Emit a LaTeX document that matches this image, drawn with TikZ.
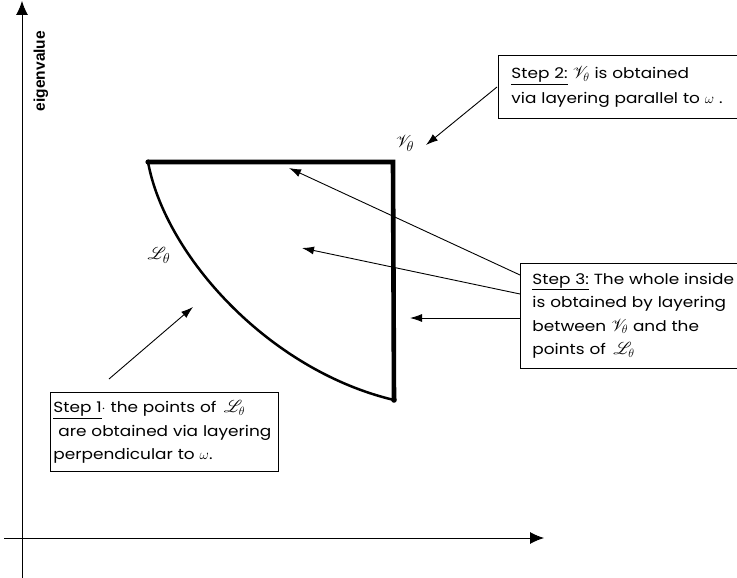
\documentclass[tikz,border=0pt]{standalone}
\usepackage{fontspec}
\usepackage{mathrsfs}
\setmainfont{Poppins}[FakeStretch=1.15]
\setsansfont{Liberation Sans}
\usetikzlibrary{arrows.meta}
\newcommand\myScrV{{\fontsize{17}{20}\selectfont$\mathscr{V}_{\theta}$}}
\newcommand\myScrL{{\fontsize{17}{20}\selectfont$\mathscr{L}_{\theta}$}}
\begin{document}
\begin{tikzpicture}[x=1pt,y=-1pt,
  box/.style={draw,line width=0.9pt,align=left,anchor=north west,inner ysep=9pt,font=\fontsize{14.7}{23.5}\selectfont},
  thin/.style={line width=0.9pt,-{Latex[length=12pt,width=8pt]}},
  axis/.style={line width=0.9pt,-{Latex[length=14pt,width=12pt]}},
  edge/.style={line width=4.6pt},
  lbl/.style={font=\fontsize{19}{21}\selectfont}]
\useasboundingbox (0,0) rectangle (737,578);
% axes
\coordinate (yb) at (22,578);
\coordinate (yt) at (22,1);
\coordinate (xl) at (4,538);
\coordinate (xr) at (544,538);
\draw[axis] (yb) -- (yt);
\draw[axis] (xl) -- (xr);
\node[rotate=90,font=\sffamily\bfseries\fontsize{15.5}{17}\selectfont] (ev) at (41,71) {eigenvalue};
% shape
\coordinate (A) at (148,162);
\coordinate (B) at (393,162);
\coordinate (C) at (394,400);
\draw[edge,line join=miter] (A) -- (B) -- (C);
\draw[line width=2.5pt] (A) .. controls (165,255) and (268,370) .. (C);
\fill (A) circle (2.6pt);
\fill (C) circle (2.8pt);
% labels
\node[lbl] (V) at (405,143) {$\mathscr{V}_{\theta}$};
\node[lbl] (L) at (159,255) {$\mathscr{L}_{\theta}$};
% step 2
\node[box,inner xsep=13pt,inner ysep=11pt,font=\fontsize{14.7}{25}\selectfont,text width=214pt] (s2) at (498,55) {\underline{Step 2:} \myScrV\ is obtained\\via layering parallel to $\omega$ .};
\coordinate (s2a) at (497,87);
\coordinate (Vt) at (426,145);
\draw[thin] (s2a) -- (Vt);
% step 3
\node[box,inner xsep=12pt,inner ysep=9.5pt,text width=204pt] (s3) at (520,263) {\underline{Step 3:} The whole inside\\is obtained by layering\\between \myScrV\ and the\\points of\, \myScrL};
\coordinate (t1) at (289,168);
\coordinate (t2) at (302,248);
\coordinate (t3) at (410,318);
\draw[thin] (s3.west |- 0,275) -- (t1);
\draw[thin] (s3.west |- 0,294) -- (t2);
\draw[thin] (s3.west |- 0,318) -- (t3);
% step 1
\node[box,inner xsep=3pt,inner ysep=8pt,text width=222pt] (s1) at (50,392) {\underline{Step 1}$\cdot$ the points of\, \myScrL\\\ are obtained via layering\\perpendicular to $\omega$.};
\coordinate (s1a) at (109,379);
\coordinate (t4) at (193,307);
\draw[thin] (s1a) -- (t4);
\end{tikzpicture}
\end{document}
